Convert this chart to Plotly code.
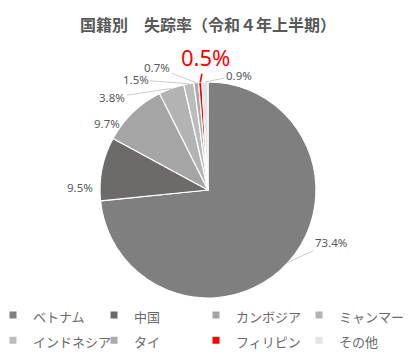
import math
import plotly.graph_objects as go

labels = ["ベトナム", "中国", "カンボジア", "ミャンマー", "インドネシア", "タイ", "フィリピン", "その他"]
values = [73.4, 9.5, 9.7, 3.8, 1.5, 0.7, 0.5, 0.9]
colors = ["#7f7f7f", "#6d6a6a", "#a5a5a5", "#b3b3b3", "#bcbcbc", "#aaaaaa", "#ff0000", "#e4e4e4"]

# label styling / placement (pixel offsets of each label from its slice's outer mid-point)
label_colors = ["#595959"] * 6 + ["#ff0000", "#595959"]
label_sizes = [11.5] * 6 + [22, 11.5]
label_offsets = [(43, -20), (-22, 19), (-26, 11), (-59, 9), (-53, -4), (-39, -15), (5, -25), (34, -7)]
label_arrow = [True, False, False, True, True, True, True, True]

# figure size (page body adds an 8px margin around the plot)
W, H = 395, 347
CX, CY, R = 200, 182, 108  # pie centre & radius in px (layout)
LEGEND_COL_X = [0, 101, 203, 306]  # px, legend column positions
LEGEND_TOP = 289.5

fig = go.Figure()
fig.add_trace(go.Pie(
    labels=labels,
    values=values,
    sort=False,
    direction="clockwise",
    rotation=0,
    marker=dict(colors=colors, line=dict(color="white", width=1.2)),
    textinfo="none",
    domain=dict(x=[(CX - R) / W, (CX + R) / W], y=[1 - (CY + R) / H, 1 - (CY - R) / H]),
    showlegend=False,
    hoverinfo="label+percent",
))

# legend entries (small square markers like the reference), 4 columns x 2 rows
for i, (lab, col) in enumerate(zip(labels, colors)):
    c = i % 4
    fig.add_trace(go.Scatter(
        x=[None], y=[None], mode="markers",
        marker=dict(symbol="square", size=7, color=col),
        name=f'<span style="font-size:13px">{lab}</span>',
        showlegend=True, hoverinfo="skip",
        legend="legend" if c == 0 else f"legend{c + 1}",
    ))

# percentage labels, anchored at each slice's mid-angle on the rim
total = sum(values)
cum = 0.0
for v, col, size, (dx, dy), arr in zip(values, label_colors, label_sizes, label_offsets, label_arrow):
    mid = (cum + v / 2) / total * 2 * math.pi
    cum += v
    px = CX + R * math.sin(mid)
    py = CY - R * math.cos(mid)
    red = col == "#ff0000"
    ann = dict(
        x=px / W, y=1 - py / H, xref="paper", yref="paper",
        xanchor="center", yanchor="middle",
        text=f"{v:.1f}%", font=dict(size=size, color=col, family="Noto Sans"),
        borderpad=0,
    )
    if arr:
        ann.update(showarrow=True, ax=dx, ay=dy, arrowhead=0, arrowwidth=(1.6 if red else 0.8),
                   arrowcolor=("#ff0000" if red else "#bfbfbf"), standoff=0, startstandoff=1)
    else:
        ann.update(showarrow=False, xshift=dx, yshift=-dy)
    fig.add_annotation(**ann)

legend_style = dict(orientation="v", xanchor="left", yanchor="top", y=1 - LEGEND_TOP / H,
                    itemwidth=30, indentation=-15, font=dict(size=17, color="#6a6a6a"),
                    traceorder="normal", bgcolor="rgba(0,0,0,0)", tracegroupgap=0)

fig.update_layout(
    width=W, height=H,
    margin=dict(l=0, r=0, t=0, b=0, autoexpand=False),
    paper_bgcolor="white",
    plot_bgcolor="white",
    font=dict(family="Noto Sans CJK JP", color="#595959"),
    xaxis=dict(visible=False),
    yaxis=dict(visible=False),
    title=dict(text="<b>国籍別　失踪率（令和４年上半期）</b>", x=200 / W, xanchor="center",
               y=1 - 17.5 / H, yanchor="middle",
               font=dict(size=16, color="#595959", family="Noto Sans CJK JP")),
    legend=dict(x=LEGEND_COL_X[0] / W, **legend_style),
    legend2=dict(x=LEGEND_COL_X[1] / W, **legend_style),
    legend3=dict(x=LEGEND_COL_X[2] / W, **legend_style),
    legend4=dict(x=LEGEND_COL_X[3] / W, **legend_style),
)

fig.write_html("out.html")
